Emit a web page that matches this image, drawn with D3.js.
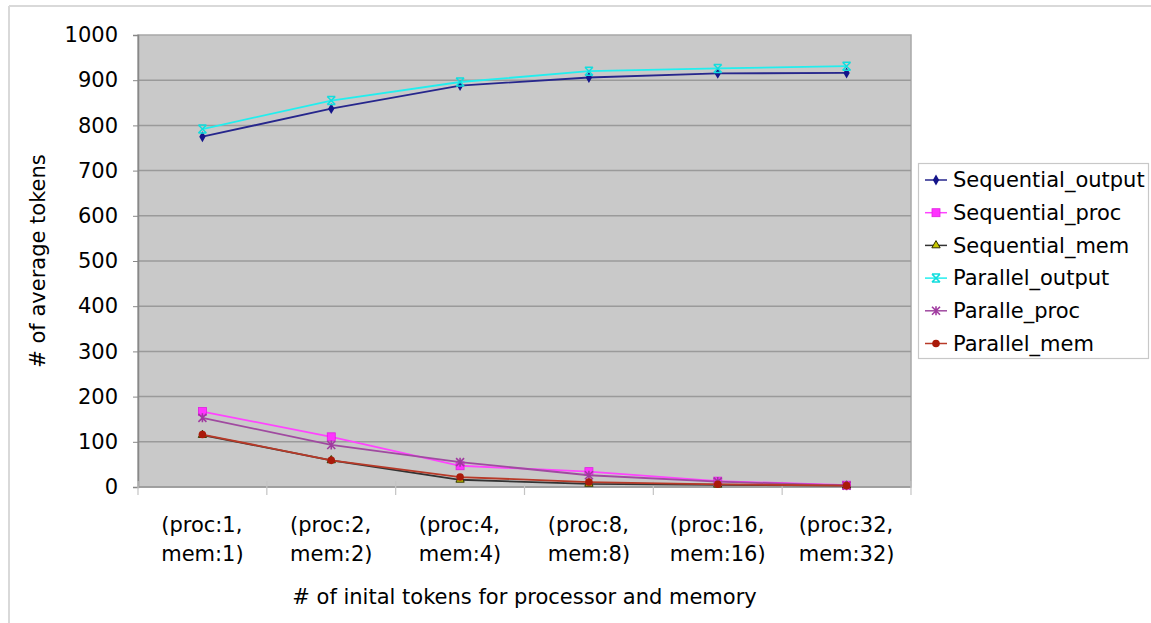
<!DOCTYPE html>
<html>
<head>
<meta charset="utf-8">
<script src="https://cdn.jsdelivr.net/npm/d3@7"></script>
<style>
  html, body { margin: 0; padding: 0; background: #fff; }
  svg { display: block; }
  text { font-family: "DejaVu Sans", Verdana, sans-serif; fill: #000; }
</style>
</head>
<body>
<svg id="chart" width="1151" height="623"></svg>
<script>
// Categories: initial tokens given to processor and memory
const categories = ["(proc:1, mem:1)", "(proc:2, mem:2)", "(proc:4, mem:4)",
                    "(proc:8, mem:8)", "(proc:16, mem:16)", "(proc:32, mem:32)"];

// Average token counts per series
const sequentialOutput = [775, 837, 888, 906, 915, 916];
const sequentialProc   = [167, 111, 47, 34, 13, 4];
const sequentialMem    = [115, 59, 16, 7, 5, 3];
const parallelOutput   = [792, 855, 896, 920, 926, 931];
const paralleProc      = [153, 93, 55, 26, 12, 3];
const parallelMem      = [116, 59, 22, 11, 6, 3];

const yTicks = [0, 100, 200, 300, 400, 500, 600, 700, 800, 900, 1000];

const series = [
  { name: "Sequential_output", values: sequentialOutput, line: "#26268c", marker: "diamond",  fill: "#14148a", stroke: "#14148a" },
  { name: "Sequential_proc",   values: sequentialProc,   line: "#ff44ff", marker: "square",   fill: "#ff33ff", stroke: "#e020e0" },
  { name: "Sequential_mem",    values: sequentialMem,    line: "#333333", marker: "triangle", fill: "#c8c800", stroke: "#333300" },
  { name: "Parallel_output",   values: parallelOutput,   line: "#22eeee", marker: "xbar",     fill: "none",    stroke: "#11dddd" },
  { name: "Paralle_proc",      values: paralleProc,      line: "#a04aa0", marker: "star",     fill: "none",    stroke: "#a03aa0" },
  { name: "Parallel_mem",      values: parallelMem,      line: "#b83a28", marker: "circle",   fill: "#aa1a0a", stroke: "#aa1a0a" }
];

const FONT = "21px";
const svg = d3.select("#chart");
const plot = { left: 138, right: 911, top: 35, bottom: 487 };

// Outer frame lines
svg.append("line").attr("x1", 9).attr("x2", 1151).attr("y1", 6).attr("y2", 6)
  .attr("stroke", "#d9d9d9").attr("stroke-width", 2);
svg.append("line").attr("x1", 9).attr("x2", 9).attr("y1", 6).attr("y2", 623)
  .attr("stroke", "#d9d9d9").attr("stroke-width", 2);

const x = d3.scaleBand().domain(categories).range([plot.left, plot.right]).padding(0);
const y = d3.scaleLinear().domain([0, 1000]).range([plot.bottom, plot.top]);
const cx = c => x(c) + x.bandwidth() / 2;

// Plot background
svg.append("rect")
  .attr("x", plot.left).attr("y", plot.top)
  .attr("width", plot.right - plot.left).attr("height", plot.bottom - plot.top)
  .attr("fill", "#c9c9c9").attr("stroke", "#a8a8a8").attr("stroke-width", 1.5);

// Horizontal gridlines
svg.append("g").selectAll("line")
  .data(yTicks.filter(t => t > 0 && t < 1000))
  .join("line")
  .attr("x1", plot.left).attr("x2", plot.right)
  .attr("y1", d => y(d)).attr("y2", d => y(d))
  .attr("stroke", "#9a9a9a").attr("stroke-width", 1.5);

// Y axis
const yAxis = svg.append("g")
  .attr("transform", `translate(${plot.left},0)`)
  .call(d3.axisLeft(y).tickValues(yTicks).tickFormat(d3.format("d")).tickSize(5).tickPadding(15));
yAxis.select(".domain").attr("stroke", "#888").attr("stroke-width", 1.5);
yAxis.selectAll(".tick line").attr("stroke", "#888");
yAxis.selectAll(".tick text")
  .style("font-family", '"DejaVu Sans", Verdana, sans-serif')
  .style("font-size", FONT).attr("fill", "#000");

// X axis baseline and crossing tick marks at band boundaries
svg.append("line")
  .attr("x1", plot.left).attr("x2", plot.right)
  .attr("y1", y(0)).attr("y2", y(0))
  .attr("stroke", "#999").attr("stroke-width", 1.5);
const boundaries = categories.map(c => x(c)).concat([plot.right]);
svg.append("g").selectAll("line")
  .data(boundaries)
  .join("line")
  .attr("x1", d => d).attr("x2", d => d)
  .attr("y1", y(0) - 6).attr("y2", y(0) + 8)
  .attr("stroke", "#c4c4c4").attr("stroke-width", 1.2);

// Category labels: two left-aligned lines, block centred on the band
const catG = svg.append("g");
categories.forEach(c => {
  const parts = c.split(" ");
  const t = catG.append("text")
    .style("font-size", FONT);
  parts.forEach((p, i) => {
    t.append("tspan").attr("x", 0).attr("y", 532 + i * 29).text(p);
  });
  const w = t.node().getBBox().width;
  t.attr("transform", `translate(${cx(c) - w / 2},0)`);
});

// Axis titles
svg.append("text")
  .attr("x", (plot.left + plot.right) / 2).attr("y", 604)
  .attr("text-anchor", "middle")
  .style("font-size", FONT)
  .text("# of inital tokens for processor and memory");
svg.append("text")
  .attr("transform", `translate(45,${(plot.top + plot.bottom) / 2}) rotate(-90)`)
  .attr("text-anchor", "middle")
  .style("font-size", FONT)
  .text("# of average tokens");

// Marker shapes
function drawMarker(g, s, px, py) {
  switch (s.marker) {
    case "diamond":
      g.append("path").attr("d", d3.symbol(d3.symbolDiamond, 34)())
        .attr("transform", `translate(${px},${py})`).attr("fill", s.fill);
      break;
    case "square":
      g.append("rect").attr("x", px - 4).attr("y", py - 4).attr("width", 8).attr("height", 8)
        .attr("fill", s.fill).attr("stroke", s.stroke).attr("stroke-width", 0.8);
      break;
    case "triangle":
      g.append("path").attr("d", d3.symbol(d3.symbolTriangle, 30)())
        .attr("transform", `translate(${px},${py})`)
        .attr("fill", s.fill).attr("stroke", s.stroke).attr("stroke-width", 1);
      break;
    case "xbar":
      g.append("path")
        .attr("d", `M${px - 4},${py - 4}L${px + 4},${py + 4}M${px + 4},${py - 4}L${px - 4},${py + 4}M${px - 4},${py - 4}L${px + 4},${py - 4}M${px - 4},${py + 4}L${px + 4},${py + 4}`)
        .attr("stroke", s.stroke).attr("stroke-width", 1.5).attr("fill", "none");
      break;
    case "star":
      g.append("path")
        .attr("d", `M${px - 4},${py - 4}L${px + 4},${py + 4}M${px + 4},${py - 4}L${px - 4},${py + 4}M${px},${py - 4.5}L${px},${py + 4.5}`)
        .attr("stroke", s.stroke).attr("stroke-width", 1.6).attr("fill", "none");
      break;
    case "circle":
      g.append("circle").attr("cx", px).attr("cy", py).attr("r", 3.8).attr("fill", s.fill);
      break;
  }
}

// Series lines and markers
const line = d3.line().x(d => cx(d.c)).y(d => y(d.v));
series.forEach(s => {
  const pts = categories.map((c, i) => ({ c, v: s.values[i] }));
  const g = svg.append("g");
  g.append("path").datum(pts).attr("d", line)
    .attr("fill", "none").attr("stroke", s.line).attr("stroke-width", 1.8);
  pts.forEach(p => drawMarker(g, s, cx(p.c), y(p.v)));
});

// Legend
const legend = svg.append("g");
legend.append("rect")
  .attr("x", 918.5).attr("y", 163.5).attr("width", 230).attr("height", 195)
  .attr("fill", "#fff").attr("stroke", "#c8c8c8").attr("stroke-width", 1.2);
series.forEach((s, i) => {
  const ry = 180 + i * 32.7;
  legend.append("line").attr("x1", 925).attr("x2", 947).attr("y1", ry).attr("y2", ry)
    .attr("stroke", s.line).attr("stroke-width", 1.5);
  drawMarker(legend, s, 936, ry);
  legend.append("text").attr("x", 953).attr("y", ry).attr("dy", "0.35em")
    .style("font-size", FONT).text(s.name);
});
</script>
</body>
</html>
